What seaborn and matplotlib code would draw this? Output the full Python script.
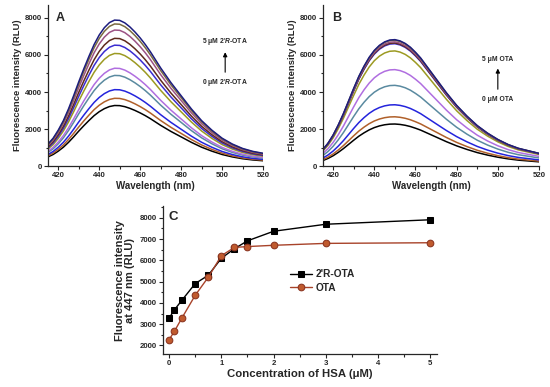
import matplotlib
matplotlib.use("Agg")
import matplotlib.pyplot as plt
from matplotlib.ticker import AutoMinorLocator, MultipleLocator
import pandas as pd
import seaborn as sns

wavelength = [415, 417.5, 420, 422.5, 425, 427.5, 430, 432.5, 435, 437.5, 440, 442.5,
              445, 447.5, 450, 452.5, 455, 457.5, 460, 462.5, 465, 467.5, 470, 472.5,
              475, 480, 485, 490, 495, 500, 505, 510, 515, 520]
profile_a = [0.15, 0.19, 0.245, 0.31, 0.39, 0.48, 0.575, 0.665, 0.75, 0.83, 0.895, 0.945,
             0.98, 0.997, 0.995, 0.978, 0.95, 0.915, 0.875, 0.83, 0.78, 0.725, 0.67, 0.62,
             0.57, 0.48, 0.39, 0.31, 0.245, 0.19, 0.15, 0.12, 0.10, 0.087]
profile_b = [0.13, 0.18, 0.245, 0.325, 0.415, 0.515, 0.615, 0.71, 0.79, 0.86, 0.915, 0.955,
             0.982, 0.997, 1.0, 0.99, 0.97, 0.94, 0.90, 0.855, 0.80, 0.745, 0.69, 0.635,
             0.58, 0.48, 0.395, 0.32, 0.26, 0.21, 0.17, 0.14, 0.12, 0.10]

# HSA titration (uM) and intensity at 447 nm
hsa_conc = [0, 0.1, 0.25, 0.5, 0.75, 1, 1.25, 1.5, 2, 3, 5]
r_ota_447 = [3280, 3670, 4140, 4910, 5300, 6100, 6550, 6920, 7370, 7700, 7910]
ota_447 = [2270, 2660, 3310, 4360, 5210, 6220, 6610, 6650, 6710, 6800, 6830]

curve_colors = ['#000000', '#b0602a', '#2424dc', '#5a8aa0', '#b06ee0', '#9c9a22',
                '#3a2cd0', '#5e2a1c', '#9c5284', '#7a6a40', '#1c1c7e']

sns.set_style("ticks")
plt.rcParams['font.family'] = ['Liberation Sans', 'DejaVu Sans']
plt.rcParams['font.weight'] = 'bold'
plt.rcParams['axes.labelweight'] = 'bold'
plt.rcParams['mathtext.fontset'] = 'custom'
plt.rcParams['mathtext.rm'] = 'Liberation Sans:bold'
plt.rcParams['mathtext.it'] = 'Liberation Sans:italic:bold'
plt.rcParams['mathtext.bf'] = 'Liberation Sans:bold'
plt.rcParams['mathtext.bfit'] = 'Liberation Sans:italic:bold'


def spectra_frame(profile, peaks):
    rows = []
    for c, peak in zip(hsa_conc, peaks):
        for wl, p in zip(wavelength, profile):
            rows.append({'wavelength': wl, 'intensity': p * peak, 'conc': str(c)})
    return pd.DataFrame(rows)


def style_axis(ax, size=5.6):
    ax.tick_params(which='both', direction='out', width=0.8, labelsize=size, pad=1.5)
    ax.tick_params(which='major', length=3)
    ax.tick_params(which='minor', length=1.8)
    for s in ['left', 'bottom']:
        ax.spines[s].set_linewidth(0.9)
    sns.despine(ax=ax)


fig = plt.figure(figsize=(5.5, 3.87), dpi=100)
ax_a = fig.add_axes([0.0873, 0.571, 0.391, 0.416])
ax_b = fig.add_axes([0.587, 0.571, 0.393, 0.416])
ax_c = fig.add_axes([0.296, 0.0853, 0.498, 0.382])

hue_order = [str(c) for c in hsa_conc]
palette = dict(zip(hue_order, curve_colors))

for ax, profile, peaks, letter, lx in [(ax_a, profile_a, r_ota_447, 'A', 0.035),
                                       (ax_b, profile_b, ota_447, 'B', 0.042)]:
    sns.lineplot(data=spectra_frame(profile, peaks), x='wavelength', y='intensity', hue='conc',
                 hue_order=hue_order, palette=palette, linewidth=1.1, legend=False, ax=ax)
    ax.set_xlim(415, 520)
    ax.set_ylim(0, 8700)
    ax.xaxis.set_major_locator(MultipleLocator(20))
    ax.xaxis.set_minor_locator(AutoMinorLocator(2))
    ax.yaxis.set_major_locator(MultipleLocator(2000))
    ax.yaxis.set_minor_locator(AutoMinorLocator(2))
    ax.set_xlabel('Wavelength (nm)', fontsize=7, labelpad=1)
    ax.set_ylabel('Fluorescence intensity (RLU)', fontsize=6.8, labelpad=2)
    ax.text(lx, 0.955, letter, transform=ax.transAxes, fontsize=9, fontweight='bold', va='top')
    style_axis(ax)

# arrows and labels
ax_a.text(501.5, 6750, r"5 μM 2'$\mathit{R}$-OTA", fontsize=4.9, ha='center', va='center')
ax_a.text(501.5, 4490, r"0 μM 2'$\mathit{R}$-OTA", fontsize=4.9, ha='center', va='center')
ax_a.annotate('', xy=(501.5, 6300), xytext=(501.5, 4920),
              arrowprops=dict(arrowstyle='-|>', color='black', lw=0.8, mutation_scale=6))
ax_b.text(500, 5730, "5 μM OTA", fontsize=4.9, ha='center', va='center')
ax_b.text(500, 3570, "0 μM OTA", fontsize=4.9, ha='center', va='center')
ax_b.annotate('', xy=(500, 5420), xytext=(500, 4000),
              arrowprops=dict(arrowstyle='-|>', color='black', lw=0.8, mutation_scale=6))

# panel C
sns.lineplot(x=hsa_conc, y=r_ota_447, color='black', marker='s', markersize=4.4,
             markeredgecolor='black', linewidth=1.0, label="2'R-OTA", ax=ax_c)
sns.lineplot(x=hsa_conc, y=ota_447, color='#a8432a', marker='o', markersize=4.8,
             markerfacecolor='#c05a2e', markeredgecolor='#8a3420', linewidth=1.0,
             label='OTA', ax=ax_c)
ax_c.set_xlim(-0.12, 5.12)
ax_c.set_ylim(1600, 8550)
ax_c.xaxis.set_major_locator(MultipleLocator(1))
ax_c.xaxis.set_minor_locator(AutoMinorLocator(2))
ax_c.yaxis.set_major_locator(MultipleLocator(1000))
ax_c.yaxis.set_minor_locator(AutoMinorLocator(2))
ax_c.set_xlabel('Concentration of HSA (μM)', fontsize=8.2, labelpad=1)
ax_c.set_ylabel('Fluorescence intensity\nat 447 nm (RLU)', fontsize=8.0, labelpad=3, linespacing=1.0)
ax_c.text(0.02, 0.965, 'C', transform=ax_c.transAxes, fontsize=9.5, fontweight='bold', va='top')
ax_c.legend(loc='upper left', bbox_to_anchor=(0.45, 0.6), frameon=False, fontsize=7.3,
            handlelength=2.2, handletextpad=0.3, labelspacing=0.35, borderaxespad=0)
style_axis(ax_c, size=5.6)

fig.savefig('out.png', dpi=100)
